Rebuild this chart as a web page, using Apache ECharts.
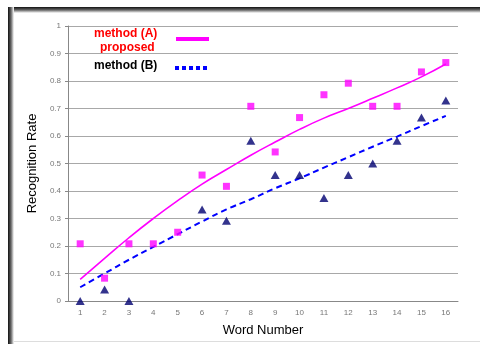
<!DOCTYPE html>
<html><head><meta charset="utf-8">
<script src="https://cdn.jsdelivr.net/npm/echarts@6/dist/echarts.min.js"></script>
<style>html,body{margin:0;padding:0;background:#fff}#c{width:480px;height:344px}</style>
</head><body><div id="c"></div>
<script>
const categories = ['1','2','3','4','5','6','7','8','9','10','11','12','13','14','15','16'];
const methodA = [0.208,0.083,0.208,0.208,0.25,0.458,0.417,0.708,0.542,0.667,0.75,0.792,0.708,0.708,0.833,0.867];
const methodB = [0,0.042,0,'-','-',0.333,0.292,0.583,0.458,0.458,0.375,0.458,0.5,0.583,0.667,0.729];
const trendA = [0.079,0.155,0.23,0.30,0.365,0.425,0.478,0.53,0.578,0.624,0.665,0.70,0.737,0.775,0.815,0.862];
const trendB = [0.05,0.10,0.15,0.197,0.243,0.289,0.333,0.37,0.41,0.446,0.485,0.523,0.561,0.598,0.636,0.673];
const yTicks = ['0','0.1','0.2','0.3','0.4','0.5','0.6','0.7','0.8','0.9','1'];

const chart = echarts.init(document.getElementById('c'), null, {renderer:'canvas'});
chart.setOption({
  backgroundColor:'#fff',
  animation:false,
  grid:{left:68, right:22, top:26, bottom:43},
  xAxis:{
    type:'category', data:categories, boundaryGap:true,
    name:'Word Number', nameLocation:'middle', nameGap:23,
    nameTextStyle:{fontFamily:'Liberation Sans', fontSize:13, color:'#000'},
    axisLine:{lineStyle:{color:'#888', width:1}},
    axisTick:{inside:true, length:4, lineStyle:{color:'#888'}},
    axisLabel:{fontFamily:'Liberation Sans', fontSize:8, color:'#777', margin:8}
  },
  yAxis:{
    type:'value', min:0, max:1, interval:0.1,
    name:'Recognition Rate', nameLocation:'middle', nameGap:27, nameRotate:90,
    nameTextStyle:{fontFamily:'Liberation Sans', fontSize:13, color:'#000'},
    axisLine:{show:true, lineStyle:{color:'#888', width:1}},
    axisTick:{show:true, length:3, lineStyle:{color:'#888'}},
    axisLabel:{fontFamily:'Liberation Sans', fontSize:8, color:'#777', margin:7,
      formatter:function(v){const i=Math.round(v*10);return yTicks[i];}},
    splitLine:{lineStyle:{color:'#a8a8a8', width:1}}
  },
  series:[
    {type:'line', data:trendA, smooth:true, symbol:'none', z:2,
     lineStyle:{color:'#ff00ff', width:1.6}},
    {type:'line', data:trendB, smooth:true, symbol:'none', z:2,
     lineStyle:{color:'#0000ff', width:2, type:[6,4]}},
    {type:'scatter', data:methodA, symbol:'rect', symbolSize:7, z:3,
     itemStyle:{color:'#ff00ff'}},
    {type:'scatter', data:methodB, symbol:'triangle', symbolSize:[9,8], z:3,
     itemStyle:{color:'#000070'}}
  ],
  graphic:[
    {type:'rect', shape:{x:8,y:7,width:472,height:6}, silent:true, z:-1,
     style:{fill:new echarts.graphic.LinearGradient(0,0,0,1,[{offset:0,color:'#111'},{offset:0.5,color:'#666'},{offset:1,color:'#fff'}])}},
    {type:'rect', shape:{x:8,y:7,width:6,height:337}, silent:true, z:-1,
     style:{fill:new echarts.graphic.LinearGradient(0,0,1,0,[{offset:0,color:'#111'},{offset:0.5,color:'#666'},{offset:1,color:'#fff'}])}},
    {type:'rect', shape:{x:14,y:341,width:466,height:1}, silent:true, z:-1, style:{fill:'#ddd'}},
    {type:'text', left:94, top:28, silent:true,
     style:{text:'method (A)', fill:'#ff0000', font:'bold 12px "Liberation Sans", sans-serif'}},
    {type:'text', left:100, top:42, silent:true,
     style:{text:'proposed', fill:'#ff0000', font:'bold 12px "Liberation Sans", sans-serif'}},
    {type:'text', left:94, top:60, silent:true,
     style:{text:'method (B)', fill:'#000', font:'bold 12px "Liberation Sans", sans-serif'}},
    {type:'line', silent:true, shape:{x1:176,y1:39,x2:209,y2:39},
     style:{stroke:'#ff00ff', lineWidth:4}},
    {type:'line', silent:true, shape:{x1:175,y1:68,x2:210,y2:68},
     style:{stroke:'#0000ff', lineWidth:4, lineDash:[4,3]}}
  ]
});
</script></body></html>
